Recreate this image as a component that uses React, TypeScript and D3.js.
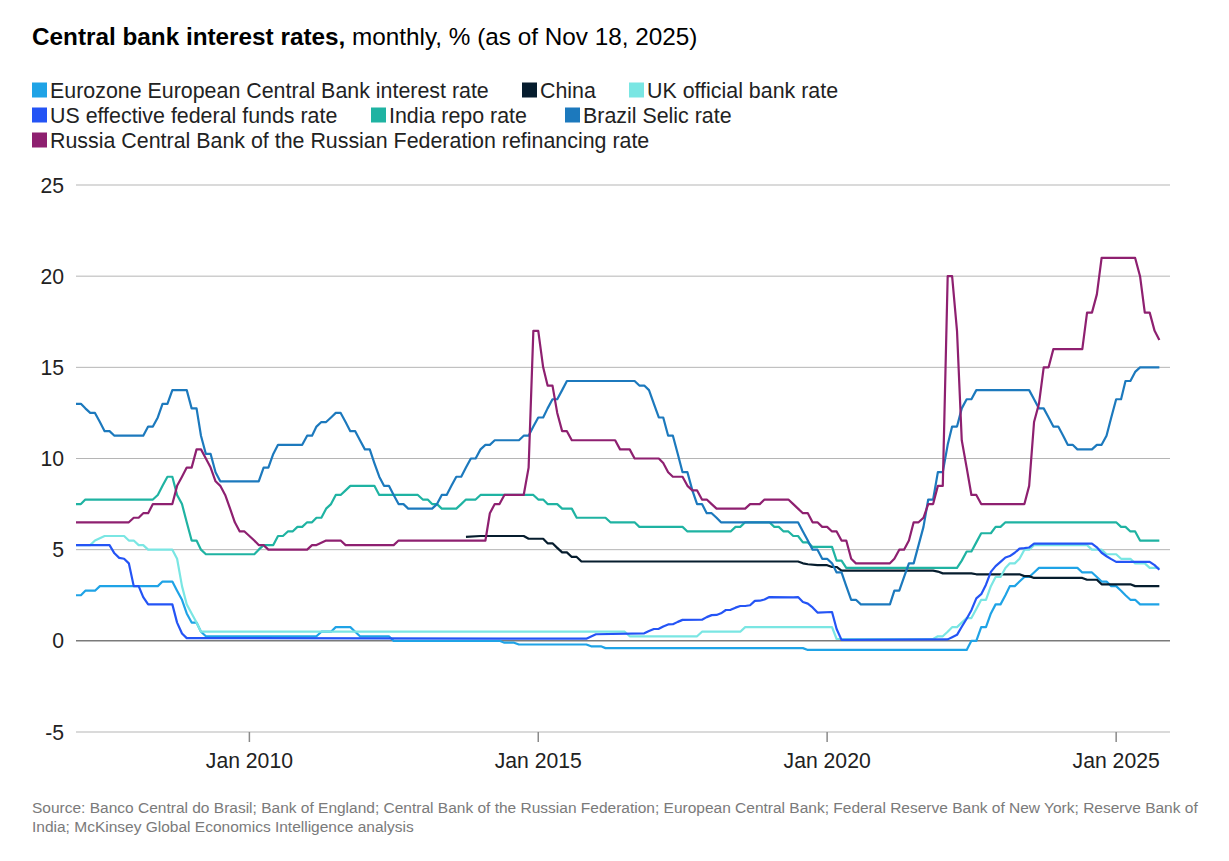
import React from "react";
import * as d3 from "d3";

type Pt = [string, number];

const seriesNames = [
  "Eurozone European Central Bank interest rate",
  "China",
  "UK official bank rate",
  "US effective federal funds rate",
  "India repo rate",
  "Brazil Selic rate",
  "Russia Central Bank of the Russian Federation refinancing rate",
];

const seriesColors = ["#1fa3e6", "#061d2e", "#7ae6e3", "#2454f5", "#1fb3a2", "#1c79bd", "#8e2070"];

const eurozone: Pt[] = [
  ["2007-01", 2.5], ["2007-02", 2.5], ["2007-03", 2.75], ["2007-05", 2.75], ["2007-06", 3.0], ["2008-06", 3.0],
  ["2008-07", 3.25], ["2008-09", 3.25], ["2008-10", 2.75], ["2008-11", 2.25], ["2008-12", 1.5], ["2009-01", 1.0],
  ["2009-02", 1.0], ["2009-03", 0.5], ["2009-04", 0.25], ["2011-03", 0.25], ["2011-04", 0.5], ["2011-06", 0.5],
  ["2011-07", 0.75], ["2011-10", 0.75], ["2011-11", 0.5], ["2011-12", 0.25], ["2012-06", 0.25], ["2012-07", 0],
  ["2014-05", 0], ["2014-06", -0.1], ["2014-08", -0.1], ["2014-09", -0.2], ["2015-11", -0.2], ["2015-12", -0.3],
  ["2016-02", -0.3], ["2016-03", -0.4], ["2019-08", -0.4], ["2019-09", -0.5], ["2022-06", -0.5], ["2022-07", 0],
  ["2022-08", 0], ["2022-09", 0.75], ["2022-10", 0.75], ["2022-11", 1.5], ["2022-12", 2.0], ["2023-01", 2.0],
  ["2023-02", 2.5], ["2023-03", 3.0], ["2023-04", 3.0], ["2023-05", 3.25], ["2023-06", 3.5], ["2023-07", 3.5],
  ["2023-08", 3.75], ["2023-09", 4.0], ["2024-05", 4.0], ["2024-06", 3.75], ["2024-08", 3.75], ["2024-09", 3.5],
  ["2024-10", 3.25], ["2024-11", 3.25], ["2024-12", 3.0], ["2025-01", 3.0], ["2025-02", 2.75], ["2025-03", 2.5],
  ["2025-04", 2.25], ["2025-05", 2.25], ["2025-06", 2.0], ["2025-10", 2.0],
];

const china: Pt[] = [
  ["2013-10", 5.7], ["2014-01", 5.75], ["2014-10", 5.75], ["2014-11", 5.6], ["2015-02", 5.6], ["2015-03", 5.35],
  ["2015-04", 5.35], ["2015-05", 5.1], ["2015-06", 4.85], ["2015-07", 4.85], ["2015-08", 4.6], ["2015-09", 4.6],
  ["2015-10", 4.35], ["2019-07", 4.35], ["2019-08", 4.25], ["2019-09", 4.2], ["2019-11", 4.15], ["2020-01", 4.15],
  ["2020-02", 4.05], ["2020-03", 4.05], ["2020-04", 3.85], ["2021-11", 3.85], ["2021-12", 3.8], ["2022-01", 3.7],
  ["2022-07", 3.7], ["2022-08", 3.65], ["2023-05", 3.65], ["2023-06", 3.55], ["2023-07", 3.55], ["2023-08", 3.45],
  ["2024-06", 3.45], ["2024-07", 3.35], ["2024-09", 3.35], ["2024-10", 3.1], ["2025-04", 3.1], ["2025-05", 3.0],
  ["2025-10", 3.0],
];

const uk: Pt[] = [
  ["2007-01", 5.25], ["2007-04", 5.25], ["2007-05", 5.5], ["2007-07", 5.75], ["2007-11", 5.75], ["2007-12", 5.5],
  ["2008-01", 5.5], ["2008-02", 5.25], ["2008-03", 5.25], ["2008-04", 5.0], ["2008-09", 5.0], ["2008-10", 4.5],
  ["2008-11", 3.0], ["2008-12", 2.0], ["2009-01", 1.5], ["2009-02", 1.0], ["2009-03", 0.5], ["2016-07", 0.5],
  ["2016-08", 0.25], ["2017-10", 0.25], ["2017-11", 0.5], ["2018-07", 0.5], ["2018-08", 0.75], ["2020-02", 0.75],
  ["2020-03", 0.1], ["2021-11", 0.1], ["2021-12", 0.25], ["2022-01", 0.25], ["2022-02", 0.5], ["2022-03", 0.75],
  ["2022-04", 0.75], ["2022-05", 1.0], ["2022-06", 1.25], ["2022-07", 1.25], ["2022-08", 1.75], ["2022-09", 2.25],
  ["2022-10", 2.25], ["2022-11", 3.0], ["2022-12", 3.5], ["2023-01", 3.5], ["2023-02", 4.0], ["2023-03", 4.25],
  ["2023-04", 4.25], ["2023-05", 4.5], ["2023-06", 5.0], ["2023-07", 5.0], ["2023-08", 5.25], ["2024-07", 5.25],
  ["2024-08", 5.0], ["2024-10", 5.0], ["2024-11", 4.75], ["2025-01", 4.75], ["2025-02", 4.5], ["2025-04", 4.5],
  ["2025-05", 4.25], ["2025-07", 4.25], ["2025-08", 4.0], ["2025-10", 4.0],
];

const us: Pt[] = [
  ["2007-01", 5.25], ["2007-08", 5.25], ["2007-09", 4.8], ["2007-10", 4.55], ["2007-11", 4.5], ["2007-12", 4.25],
  ["2008-01", 3.0], ["2008-02", 3.0], ["2008-03", 2.4], ["2008-04", 2.0], ["2008-09", 2.0], ["2008-10", 1.0],
  ["2008-11", 0.4], ["2008-12", 0.15], ["2015-11", 0.12], ["2015-12", 0.24], ["2016-01", 0.36], ["2016-11", 0.41],
  ["2016-12", 0.54], ["2017-01", 0.65], ["2017-02", 0.66], ["2017-03", 0.79], ["2017-04", 0.9], ["2017-05", 0.91],
  ["2017-06", 1.04], ["2017-07", 1.15], ["2017-11", 1.16], ["2017-12", 1.3], ["2018-01", 1.41], ["2018-02", 1.42],
  ["2018-03", 1.51], ["2018-04", 1.69], ["2018-05", 1.7], ["2018-06", 1.82], ["2018-07", 1.91], ["2018-08", 1.91],
  ["2018-09", 1.95], ["2018-10", 2.19], ["2018-11", 2.2], ["2018-12", 2.27], ["2019-01", 2.4], ["2019-06", 2.38],
  ["2019-07", 2.4], ["2019-08", 2.13], ["2019-09", 2.04], ["2019-10", 1.83], ["2019-11", 1.55], ["2020-02", 1.58],
  ["2020-03", 0.65], ["2020-04", 0.05], ["2022-02", 0.08], ["2022-03", 0.2], ["2022-04", 0.33], ["2022-05", 0.77],
  ["2022-06", 1.21], ["2022-07", 1.68], ["2022-08", 2.33], ["2022-09", 2.56], ["2022-10", 3.08], ["2022-11", 3.78],
  ["2022-12", 4.1], ["2023-01", 4.33], ["2023-02", 4.57], ["2023-03", 4.65], ["2023-04", 4.83], ["2023-05", 5.06],
  ["2023-06", 5.08], ["2023-07", 5.12], ["2023-08", 5.33], ["2024-08", 5.33], ["2024-09", 5.13], ["2024-10", 4.83],
  ["2024-11", 4.64], ["2024-12", 4.48], ["2025-01", 4.33], ["2025-08", 4.33], ["2025-09", 4.15], ["2025-10", 3.9],
];

const india: Pt[] = [
  ["2007-01", 7.5], ["2007-02", 7.5], ["2007-03", 7.75], ["2008-05", 7.75], ["2008-06", 8.0], ["2008-07", 8.5],
  ["2008-08", 9.0], ["2008-09", 9.0], ["2008-10", 8.0], ["2008-11", 7.5], ["2008-12", 6.5], ["2009-01", 5.5],
  ["2009-02", 5.5], ["2009-03", 5.0], ["2009-04", 4.75], ["2010-02", 4.75], ["2010-03", 5.0], ["2010-04", 5.25],
  ["2010-06", 5.25], ["2010-07", 5.75], ["2010-08", 5.75], ["2010-09", 6.0], ["2010-10", 6.0], ["2010-11", 6.25],
  ["2010-12", 6.25], ["2011-01", 6.5], ["2011-02", 6.5], ["2011-03", 6.75], ["2011-04", 6.75], ["2011-05", 7.25],
  ["2011-06", 7.5], ["2011-07", 8.0], ["2011-08", 8.0], ["2011-09", 8.25], ["2011-10", 8.5], ["2012-03", 8.5],
  ["2012-04", 8.0], ["2012-12", 8.0], ["2013-01", 7.75], ["2013-02", 7.75], ["2013-03", 7.5], ["2013-04", 7.5],
  ["2013-05", 7.25], ["2013-08", 7.25], ["2013-09", 7.5], ["2013-10", 7.75], ["2013-12", 7.75], ["2014-01", 8.0],
  ["2014-12", 8.0], ["2015-01", 7.75], ["2015-02", 7.75], ["2015-03", 7.5], ["2015-05", 7.5], ["2015-06", 7.25],
  ["2015-08", 7.25], ["2015-09", 6.75], ["2016-03", 6.75], ["2016-04", 6.5], ["2016-09", 6.5], ["2016-10", 6.25],
  ["2017-07", 6.25], ["2017-08", 6.0], ["2018-05", 6.0], ["2018-06", 6.25], ["2018-07", 6.25], ["2018-08", 6.5],
  ["2019-01", 6.5], ["2019-02", 6.25], ["2019-03", 6.25], ["2019-04", 6.0], ["2019-05", 6.0], ["2019-06", 5.75],
  ["2019-07", 5.75], ["2019-08", 5.4], ["2019-09", 5.4], ["2019-10", 5.15], ["2020-02", 5.15], ["2020-03", 4.4],
  ["2020-04", 4.4], ["2020-05", 4.0], ["2022-04", 4.0], ["2022-05", 4.4], ["2022-06", 4.9], ["2022-07", 4.9],
  ["2022-08", 5.4], ["2022-09", 5.9], ["2022-11", 5.9], ["2022-12", 6.25], ["2023-01", 6.25], ["2023-02", 6.5],
  ["2025-01", 6.5], ["2025-02", 6.25], ["2025-03", 6.25], ["2025-04", 6.0], ["2025-05", 6.0], ["2025-06", 5.5],
  ["2025-10", 5.5],
];

const brazil: Pt[] = [
  ["2007-01", 13.0], ["2007-02", 13.0], ["2007-03", 12.75], ["2007-04", 12.5], ["2007-05", 12.5], ["2007-06", 12.0],
  ["2007-07", 11.5], ["2007-08", 11.5], ["2007-09", 11.25], ["2008-03", 11.25], ["2008-04", 11.75], ["2008-05", 11.75],
  ["2008-06", 12.25], ["2008-07", 13.0], ["2008-08", 13.0], ["2008-09", 13.75], ["2008-12", 13.75], ["2009-01", 12.75],
  ["2009-02", 12.75], ["2009-03", 11.25], ["2009-04", 10.25], ["2009-05", 10.25], ["2009-06", 9.25], ["2009-07", 8.75],
  ["2010-03", 8.75], ["2010-04", 9.5], ["2010-05", 9.5], ["2010-06", 10.25], ["2010-07", 10.75], ["2010-12", 10.75],
  ["2011-01", 11.25], ["2011-02", 11.25], ["2011-03", 11.75], ["2011-04", 12.0], ["2011-05", 12.0], ["2011-06", 12.25],
  ["2011-07", 12.5], ["2011-08", 12.5], ["2011-09", 12.0], ["2011-10", 11.5], ["2011-11", 11.5], ["2011-12", 11.0],
  ["2012-01", 10.5], ["2012-02", 10.5], ["2012-03", 9.75], ["2012-04", 9.0], ["2012-05", 8.5], ["2012-06", 8.5],
  ["2012-07", 8.0], ["2012-08", 7.5], ["2012-09", 7.5], ["2012-10", 7.25], ["2013-03", 7.25], ["2013-04", 7.5],
  ["2013-05", 8.0], ["2013-06", 8.0], ["2013-07", 8.5], ["2013-08", 9.0], ["2013-09", 9.0], ["2013-10", 9.5],
  ["2013-11", 10.0], ["2013-12", 10.0], ["2014-01", 10.5], ["2014-02", 10.75], ["2014-03", 10.75], ["2014-04", 11.0],
  ["2014-09", 11.0], ["2014-10", 11.25], ["2014-11", 11.25], ["2014-12", 11.75], ["2015-01", 12.25], ["2015-02", 12.25],
  ["2015-03", 12.75], ["2015-04", 13.25], ["2015-05", 13.25], ["2015-06", 13.75], ["2015-07", 14.25], ["2016-09", 14.25],
  ["2016-10", 14.0], ["2016-11", 14.0], ["2016-12", 13.75], ["2017-01", 13.0], ["2017-02", 12.25], ["2017-03", 12.25],
  ["2017-04", 11.25], ["2017-05", 11.25], ["2017-06", 10.25], ["2017-07", 9.25], ["2017-08", 9.25], ["2017-09", 8.25],
  ["2017-10", 7.5], ["2017-11", 7.5], ["2017-12", 7.0], ["2018-01", 7.0], ["2018-02", 6.75], ["2018-03", 6.5],
  ["2019-07", 6.5], ["2019-08", 6.0], ["2019-09", 5.5], ["2019-10", 5.0], ["2019-11", 5.0], ["2019-12", 4.5],
  ["2020-01", 4.5], ["2020-02", 4.25], ["2020-03", 3.75], ["2020-04", 3.75], ["2020-05", 3.0], ["2020-06", 2.25],
  ["2020-07", 2.25], ["2020-08", 2.0], ["2021-02", 2.0], ["2021-03", 2.75], ["2021-04", 2.75], ["2021-05", 3.5],
  ["2021-06", 4.25], ["2021-07", 4.25], ["2021-08", 5.25], ["2021-09", 6.25], ["2021-10", 7.75], ["2021-11", 7.75],
  ["2021-12", 9.25], ["2022-01", 9.25], ["2022-02", 10.75], ["2022-03", 11.75], ["2022-04", 11.75], ["2022-05", 12.75],
  ["2022-06", 13.25], ["2022-07", 13.25], ["2022-08", 13.75], ["2023-07", 13.75], ["2023-08", 13.25], ["2023-09", 12.75],
  ["2023-10", 12.75], ["2023-11", 12.25], ["2023-12", 11.75], ["2024-01", 11.75], ["2024-02", 11.25], ["2024-03", 10.75],
  ["2024-04", 10.75], ["2024-05", 10.5], ["2024-08", 10.5], ["2024-09", 10.75], ["2024-10", 10.75], ["2024-11", 11.25],
  ["2024-12", 12.25], ["2025-01", 13.25], ["2025-02", 13.25], ["2025-03", 14.25], ["2025-04", 14.25], ["2025-05", 14.75],
  ["2025-06", 15.0], ["2025-10", 15.0],
];

const russia: Pt[] = [
  ["2007-01", 6.5], ["2007-12", 6.5], ["2008-01", 6.75], ["2008-02", 6.75], ["2008-03", 7.0], ["2008-04", 7.0],
  ["2008-05", 7.5], ["2008-09", 7.5], ["2008-10", 8.5], ["2008-11", 9.0], ["2008-12", 9.5], ["2009-01", 9.5],
  ["2009-02", 10.5], ["2009-03", 10.5], ["2009-04", 10.0], ["2009-05", 9.5], ["2009-06", 8.75], ["2009-07", 8.5],
  ["2009-08", 8.0], ["2009-09", 7.25], ["2009-10", 6.5], ["2009-11", 6.0], ["2009-12", 6.0], ["2010-01", 5.75],
  ["2010-02", 5.5], ["2010-03", 5.25], ["2010-04", 5.25], ["2010-05", 5.0], ["2011-01", 5.0], ["2011-02", 5.25],
  ["2011-03", 5.25], ["2011-05", 5.5], ["2011-08", 5.5], ["2011-09", 5.25], ["2012-07", 5.25], ["2012-08", 5.5],
  ["2014-02", 5.5], ["2014-03", 7.0], ["2014-04", 7.5], ["2014-05", 7.5], ["2014-06", 8.0], ["2014-10", 8.0],
  ["2014-11", 9.5], ["2014-12", 17.0], ["2015-01", 17.0], ["2015-02", 15.0], ["2015-03", 14.0], ["2015-04", 14.0],
  ["2015-05", 12.5], ["2015-06", 11.5], ["2015-07", 11.5], ["2015-08", 11.0], ["2016-05", 11.0], ["2016-06", 10.5],
  ["2016-08", 10.5], ["2016-09", 10.0], ["2017-02", 10.0], ["2017-03", 9.75], ["2017-04", 9.25], ["2017-05", 9.0],
  ["2017-07", 9.0], ["2017-08", 8.5], ["2017-09", 8.25], ["2017-10", 8.25], ["2017-11", 7.75], ["2017-12", 7.75],
  ["2018-01", 7.5], ["2018-02", 7.25], ["2018-08", 7.25], ["2018-09", 7.5], ["2018-11", 7.5], ["2018-12", 7.75],
  ["2019-05", 7.75], ["2019-06", 7.5], ["2019-07", 7.25], ["2019-08", 7.0], ["2019-09", 7.0], ["2019-10", 6.5],
  ["2019-11", 6.5], ["2019-12", 6.25], ["2020-01", 6.25], ["2020-02", 6.0], ["2020-03", 6.0], ["2020-04", 5.5],
  ["2020-05", 5.5], ["2020-06", 4.5], ["2020-07", 4.25], ["2021-02", 4.25], ["2021-03", 4.5], ["2021-04", 5.0],
  ["2021-05", 5.0], ["2021-06", 5.5], ["2021-07", 6.5], ["2021-08", 6.5], ["2021-09", 6.75], ["2021-10", 7.5],
  ["2021-11", 7.5], ["2021-12", 8.5], ["2022-01", 8.5], ["2022-02", 20.0], ["2022-03", 20.0], ["2022-04", 17.0],
  ["2022-05", 11.0], ["2022-06", 9.5], ["2022-07", 8.0], ["2022-08", 8.0], ["2022-09", 7.5], ["2023-06", 7.5],
  ["2023-07", 8.5], ["2023-08", 12.0], ["2023-09", 13.0], ["2023-10", 15.0], ["2023-11", 15.0], ["2023-12", 16.0],
  ["2024-06", 16.0], ["2024-07", 18.0], ["2024-08", 18.0], ["2024-09", 19.0], ["2024-10", 21.0], ["2025-05", 21.0],
  ["2025-06", 20.0], ["2025-07", 18.0], ["2025-08", 18.0], ["2025-09", 17.0], ["2025-10", 16.5],
];

const seriesData: Pt[][] = [eurozone, china, uk, us, india, brazil, russia];

const yTicks = [-5, 0, 5, 10, 15, 20, 25];
const xTicks = ["2010-01", "2015-01", "2020-01", "2025-01"];

const titleBold = "Central bank interest rates,";
const titleRest = " monthly, % (as of Nov 18, 2025)";
const sourceLines = [
  "Source: Banco Central do Brasil; Bank of England; Central Bank of the Russian Federation; European Central Bank; Federal Reserve Bank of New York; Reserve Bank of",
  "India; McKinsey Global Economics Intelligence analysis",
];

// legend layout: [seriesIndex, x, row]
const legendLayout: [number, number, number][] = [
  [0, 32, 0], [1, 522, 0], [2, 629, 0],
  [3, 32, 1], [4, 371, 1], [5, 565, 1],
  [6, 32, 2],
];

const FONT = "'Liberation Sans', Arial, Helvetica, sans-serif";

export default function App() {
  const W = 1229, H = 861;
  const parse = d3.timeParse("%Y-%m");
  const x = d3.scaleTime()
    .domain([new Date(2007, 0, 1), new Date(2025, 11, 1)])
    .range([76, 1169]);
  const y = d3.scaleLinear().domain([-5, 25]).range([732, 185]);
  const line = d3.line<Pt>()
    .x((d) => x(parse(d[0]) as Date))
    .y((d) => y(d[1]));

  return (
    <svg width={W} height={H} style={{ position: "absolute", left: 0, top: 0, background: "#fff" }} fontFamily={FONT}>
      <rect x={0} y={0} width={W} height={H} fill="#fff" />
      <text x={32} y={45} fontSize={24.3} fill="#000">
        <tspan fontWeight="bold">{titleBold}</tspan>
        <tspan>{titleRest}</tspan>
      </text>

      {legendLayout.map(([i, lx, row]) => (
        <g key={i} transform={`translate(${lx},${90 + row * 25})`}>
          <rect x={0} y={-7.5} width={15} height={15} fill={seriesColors[i]} />
          <text x={18} y={7.5} fontSize={21.4} fill="#222">{seriesNames[i]}</text>
        </g>
      ))}

      {yTicks.map((t) => (
        <g key={t}>
          <line x1={76} x2={1170} y1={y(t)} y2={y(t)} stroke={t === 0 ? "#7a7a7a" : "#b5b5b5"} strokeWidth={t === 0 ? 1.5 : 1} />
          <text x={64} y={y(t) + 7.5} fontSize={21.2} textAnchor="end" fill="#222">{t}</text>
        </g>
      ))}

      {xTicks.map((t) => {
        const d = parse(t) as Date;
        return (
          <g key={t}>
            <line x1={x(d)} x2={x(d)} y1={732} y2={742} stroke="#8a8a8a" strokeWidth={1.5} />
            <text x={x(d)} y={768} fontSize={21.2} textAnchor="middle" fill="#222">
              {d3.timeFormat("%b %Y")(d)}
            </text>
          </g>
        );
      })}

      {seriesData.map((s, i) => (
        <path key={i} d={line(s) || ""} fill="none" stroke={seriesColors[i]} strokeWidth={2.2} strokeLinejoin="round" />
      ))}

      {sourceLines.map((s, i) => (
        <text key={i} x={32} y={813 + i * 19} fontSize={15.5} fill="#7a7a7a">{s}</text>
      ))}
    </svg>
  );
}
